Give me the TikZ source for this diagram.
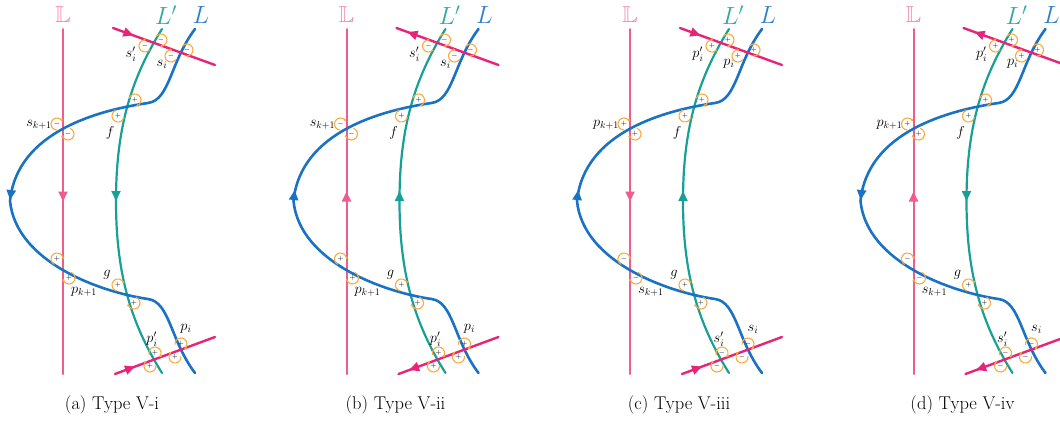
\documentclass[tikz,border=0pt]{standalone}
\usepackage{amsmath,amssymb}
\usepackage{tikz}
\usetikzlibrary{arrows.meta,calc,decorations.markings}
\definecolor{bbpink}{RGB}{240,92,142}
\definecolor{trpink}{RGB}{230,36,120}
\definecolor{lteal}{RGB}{24,160,150}
\definecolor{lblue}{RGB}{26,114,196}
\definecolor{sgnorange}{RGB}{248,170,60}
\tikzset{
  fwdtip/.tip={Triangle[length=10pt,width=9pt]},
  revtip/.tip={Triangle[length=10pt,width=9pt,reversed]},
  tipat/.style 2 args={postaction={decorate},
    decoration={markings, mark=at position #1 with {\arrow{#2}}}},
  bbline/.style={bbpink, line width=2pt},
  trline/.style={trpink, line width=2.4pt},
  tealline/.style={lteal, line width=2.2pt},
  blueline/.style={lblue, line width=2.6pt},
  sgnarc/.style={draw=sgnorange, line width=1.1pt, -{Stealth[length=2.4pt,width=3pt]}},
  sgntxt/.style={inner sep=0pt, font=\fontsize{7}{7}\selectfont},
  lbl/.style={inner sep=0pt, font=\fontsize{14}{16}\selectfont},
  toplbl/.style={inner sep=0pt, font=\fontsize{23}{25}\selectfont},
  captext/.style={inner sep=0pt, font=\fontsize{18.5}{21}\selectfont},
  every picture/.style={line cap=round, line join=round}
}

% sign with its orange arc: crossing, centre, sign
\newcommand\sgnat[3]{%
  \node[sgntxt] at #2 {$#3$};
  \draw[sgnarc] let \p1=($#2-#1$), \n1={-atan2(\y1,\x1)} in
    #2 ++(\n1-120:6) arc[start angle=\n1-120, end angle=\n1+120, radius=6];}

% one panel: shift, tip on L and L', tip on pink lines,
% top sign, top letter, bottom sign, bottom letter, caption, prefix
\newcommand\typepanel[9]{%
  \begin{scope}[xshift=#1, name prefix=#9-]
    \coordinate (xa) at (153.5,43);
    \coordinate (xb) at (179,53);
    \coordinate (xf) at (127,107);
    \coordinate (xs) at (63,128);
    \coordinate (xp) at (63,270);
    \coordinate (xg) at (127,294);
    \coordinate (xc) at (153.5,359);
    \coordinate (xd) at (178,350);

    \draw[bbline, tipat={0.5}{#3}] (63,29) -- (63,374);
    \draw[tealline, tipat={0.5}{#2}] (162,29) .. controls (130,80) and (116,130) .. (116,201)
      .. controls (116,272) and (130,322) .. (162,373);
    \draw[blueline, tipat={0.5}{#2}] (195,29) .. controls (170,62) and (170,100) .. (148,103)
      .. controls (100,110) and (17,131) .. (10,201)
      .. controls (16,262) and (100,292) .. (148,299)
      .. controls (170,302) and (170,340) .. (195,373);
    \draw[trline, tipat={0.2}{#3}] (113,28) -- (215,65);
    \draw[trline, tipat={0.2}{#3}] (115,374) -- (215,337);

    \sgnat{(xa)}{(145,46)}{#4} \sgnat{(xa)}{(161,40)}{#4}
    \sgnat{(xb)}{(171,56)}{#4} \sgnat{(xb)}{(187,50)}{#4}
    \sgnat{(xs)}{(57,124)}{#4} \sgnat{(xs)}{(68,134)}{#4}
    \sgnat{(xf)}{(135,100)}{+} \sgnat{(xf)}{(118,116)}{+}
    \sgnat{(xg)}{(118,285)}{+} \sgnat{(xg)}{(134,303)}{+}
    \sgnat{(xp)}{(57,259)}{#6} \sgnat{(xp)}{(69,278)}{#6}
    \sgnat{(xc)}{(155,353)}{#6} \sgnat{(xc)}{(150,366)}{#6}
    \sgnat{(xd)}{(181,344)}{#6} \sgnat{(xd)}{(175,357)}{#6}

    \node[toplbl, text=bbpink!75!white] (bb) at (63,15) {$\mathbb{L}$};
    \node[toplbl, text=lteal!90!white] (lp) at (166,15) {$L'$};
    \node[toplbl, text=lblue!90!white] (l) at (201,15) {$L$};

    \node[lbl] (ta) at (131,54) {$#5'_i$};
    \node[lbl] (tb) at (162,64) {$#5_i$};
    \node[lbl] (tk) at (39,125) {$#5_{k+1}$};
    \node[lbl] (f) at (110,133) {$f$};
    \node[lbl] (g) at (107,275) {$g$};
    \node[lbl] (bk) at (84,292) {$#7_{k+1}$};
    \node[lbl] (bc) at (152,339) {$#7'_i$};
    \node[lbl] (bd) at (186,329) {$#7_i$};

    \node[captext] (caption) at (112,405) {#8};
  \end{scope}}

\begin{document}
\begin{tikzpicture}[x=1pt,y=-1pt]
  \clip (0,0) rectangle (1060,421);
  \typepanel{0pt}{fwdtip}{fwdtip}{-}{s}{+}{p}{(a) Type V-i}{a}
  \typepanel{283.5pt}{revtip}{revtip}{-}{s}{+}{p}{(b) Type V-ii}{b}
  \typepanel{567pt}{revtip}{fwdtip}{+}{p}{-}{s}{(c) Type V-iii}{c}
  \typepanel{850.5pt}{fwdtip}{revtip}{+}{p}{-}{s}{(d) Type V-iv}{d}
\end{tikzpicture}
\end{document}
